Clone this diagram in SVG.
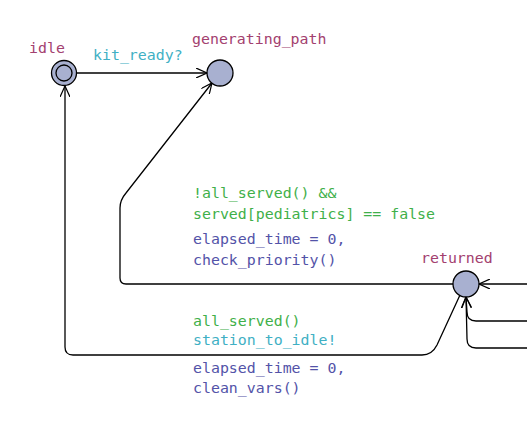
<svg xmlns="http://www.w3.org/2000/svg" width="527" height="426" viewBox="0 0 527 426">
<style>
text{font-family:"DejaVu Sans Mono","Liberation Mono",monospace;font-size:14.9px}
.name{fill:#a3416f}
.guard{fill:#3fb04a}
.sync{fill:#3fb0c4}
.upd{fill:#5353a8}
.loc{fill:#a8b0d0;stroke:#000;stroke-width:1.3}
.edge{fill:none;stroke:#000;stroke-width:1.3}
</style>
<defs>
<marker id="arr" viewBox="0 0 12 10" refX="11" refY="5" markerWidth="12" markerHeight="10" markerUnits="userSpaceOnUse" orient="auto">
<path d="M0,0 L11,5 L0,10" fill="none" stroke="#000" stroke-width="1.2"/>
</marker>
</defs>
<g id="connectors">
<path class="edge" d="M77,73 L207,73" marker-end="url(#arr)"/>
<path class="edge" d="M453,284 L126,284 Q120,284 120,278 L120,208 Q120,200 126,193 L212,83" marker-end="url(#arr)"/>
<path class="edge" d="M460,295 L437,345 Q432,355 422,355 L73,355 Q65,355 65,347 L65,86" marker-end="url(#arr)"/>
<path class="edge" d="M527,284 L479,284" marker-end="url(#arr)"/>
<path class="edge" d="M527,321 L476,321 Q467,321 467,312 L466,297" marker-end="url(#arr)"/>
<path class="edge" d="M527,348 L476,348 Q467,348 467,339 L466,297" marker-end="url(#arr)"/>
</g>
<g id="idle">
<circle class="loc" cx="64" cy="73" r="12.5"/>
<circle class="loc" cx="64" cy="73" r="8"/>
<text class="name" x="29" y="53">idle</text>
</g>
<g id="generating_path">
<circle class="loc" cx="220" cy="73" r="13"/>
<text class="name" x="192" y="44">generating_path</text>
</g>
<g id="returned">
<circle class="loc" cx="466" cy="284" r="13"/>
<text class="name" x="421" y="263">returned</text>
</g>
<g id="labels">
<text class="sync" x="93" y="60">kit_ready?</text>
<text class="guard" x="193" y="198">!all_served() &amp;&amp;</text>
<text class="guard" x="193" y="219">served[pediatrics] == false</text>
<text class="upd" x="193" y="244">elapsed_time = 0,</text>
<text class="upd" x="193" y="265">check_priority()</text>
<text class="guard" x="193" y="326">all_served()</text>
<text class="sync" x="193" y="345">station_to_idle!</text>
<text class="upd" x="193" y="373">elapsed_time = 0,</text>
<text class="upd" x="193" y="393">clean_vars()</text>
</g>
</svg>
